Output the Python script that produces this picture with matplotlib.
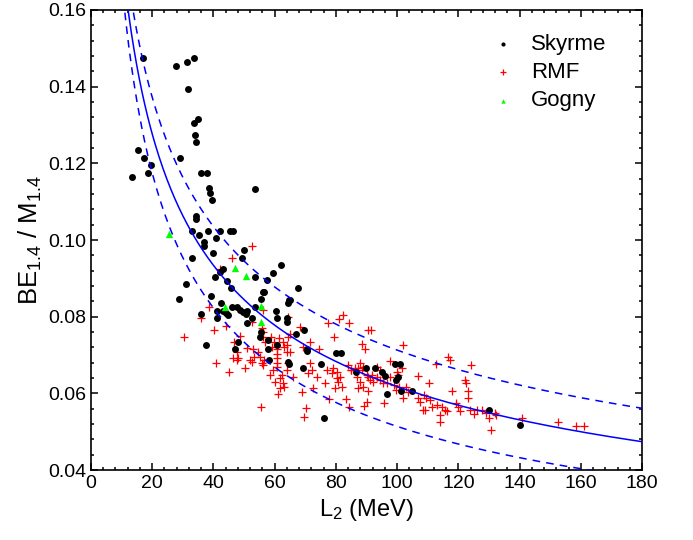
import numpy as np
import matplotlib
matplotlib.use("Agg")
import matplotlib.pyplot as plt
from matplotlib.ticker import MultipleLocator, FormatStrFormatter

plt.rcParams["font.family"] = ["Liberation Sans", "DejaVu Sans"]
plt.rcParams["mathtext.fontset"] = "custom"
plt.rcParams["mathtext.rm"] = "Liberation Sans"
plt.rcParams["mathtext.it"] = "Liberation Sans:italic"

# Skyrme models: (L2 in MeV, BE/M)
skyrme_L = [17.1, 27.7, 31.4, 33.8, 31.6, 35.1, 33.6, 33.9, 34.4, 15.4, 17.3, 29.1, 19.6, 18.5, 13.4,
            36.0, 37.8, 38.4, 39.0, 39.4, 53.5, 34.3, 34.2, 33.0, 35.4, 38.2, 40.8, 42.1, 45.4, 46.5,
            36.9, 36.9, 40.0, 32.9, 49.9, 49.2, 43.2, 42.1, 40.5, 44.5, 45.8, 30.9, 28.7, 39.2, 42.6,
            46.2, 47.6, 48.7, 49.8, 50.9, 41.1, 43.2, 44.1, 44.9, 50.5, 50.9, 52.7, 53.5, 55.4, 56.1,
            56.5, 35.9, 41.3, 37.6, 47.1, 48.0, 60.7, 63.9, 60.4, 57.6, 59.6, 62.0, 53.5, 60.8, 58.3,
            64.7, 67.7, 65.0, 64.4, 64.1, 69.6, 67.0, 55.2, 55.5, 57.9, 57.9, 70.7, 64.4, 64.6, 75.2,
            79.9, 81.7, 86.5, 95.0, 92.8, 96.8, 100.2, 70.5, 69.2, 89.7, 96.0, 99.3, 101.0, 99.6, 101.2,
            76.2, 104.9, 130.0, 140.1]
skyrme_BE = [0.1475, 0.1455, 0.1465, 0.1475, 0.1395, 0.1315, 0.1305, 0.1275, 0.1255, 0.1235, 0.1215, 0.1215, 0.1195, 0.1175, 0.1165,
             0.1175, 0.1175, 0.1135, 0.1123, 0.1104, 0.1134, 0.1063, 0.1054, 0.1024, 0.1013, 0.1024, 0.1005, 0.1024, 0.1024, 0.1024,
             0.0996, 0.0985, 0.0965, 0.0954, 0.0974, 0.0954, 0.0924, 0.0916, 0.0904, 0.0894, 0.0874, 0.0884, 0.0845, 0.0855, 0.0835,
             0.0826, 0.0825, 0.0818, 0.0813, 0.0815, 0.0815, 0.0815, 0.0809, 0.0804, 0.0806, 0.0784, 0.0796, 0.0824, 0.0847, 0.0865,
             0.0865, 0.0806, 0.0796, 0.0727, 0.0715, 0.0735, 0.0796, 0.0796, 0.0815, 0.0896, 0.0915, 0.0934, 0.0904, 0.0727, 0.0687,
             0.0843, 0.0874, 0.0843, 0.0835, 0.0785, 0.0765, 0.0754, 0.0748, 0.0761, 0.0739, 0.0716, 0.0711, 0.0683, 0.0676, 0.0677,
             0.0704, 0.0704, 0.0655, 0.0655, 0.0665, 0.0598, 0.0643, 0.0716, 0.0665, 0.0665, 0.0645, 0.0677, 0.0677, 0.0634, 0.0607,
             0.0536, 0.0606, 0.0556, 0.0518]

# RMF models
rmf_L = [52.6, 46.2, 42.1, 38.5, 35.9, 30.4, 40.3, 44.2, 48.7, 46.6, 47.7, 47.6, 40.7, 45.1, 50.3,
         53.0, 53.4, 51.9, 52.5, 55.8, 56.1, 56.3, 56.1, 56.8, 56.5, 56.3, 58.5, 59.6, 60.7, 62.3,
         61.5, 62.6, 60.9, 60.7, 64.5, 63.9, 64.1, 64.5, 64.3, 50.9, 54.7, 55.2, 55.8, 46.5, 48.1,
         52.5, 58.7, 59.8, 59.0, 60.7, 60.9, 61.7, 60.1, 62.6, 61.7, 61.0, 65.0, 68.3, 65.0, 55.7,
         82.4, 81.1, 84.4, 77.3, 63.1, 71.5, 69.2, 74.5, 79.4, 90.6, 88.4, 89.5, 102.0, 97.7, 99.9,
         63.9, 63.1, 66.1, 71.5, 72.1, 71.0, 73.9, 76.4, 72.6, 68.8, 70.2, 69.6, 77.8, 83.2, 84.4,
         79.2, 78.6, 80.3, 81.3, 80.8, 81.9, 77.2, 84.0, 84.8, 87.9, 88.8, 87.0, 87.9, 89.0, 87.3,
         90.6, 91.7, 93.3, 94.4, 95.5, 90.6, 90.3, 95.7, 93.3, 94.4, 96.8, 99.0, 99.6, 100.6, 102.9,
         103.7, 91.6, 116.7, 117.3, 124.0, 112.7, 101.5, 106.7, 110.5, 122.2, 122.4, 123.1, 123.0, 117.8, 108.9,
         109.4, 110.8, 106.9, 107.5, 108.3, 109.1, 111.3, 112.9, 114.6, 115.6, 116.2, 119.2, 120.0, 120.6, 123.8,
         126.0, 127.6, 125.1, 129.0, 132.0, 114.0, 114.0, 130.6, 140.7, 89.2, 80.3, 79.7, 85.1, 86.2, 87.3,
         88.4, 90.1, 91.1, 92.2, 97.7, 100.4, 102.0, 132.3, 130.1, 152.7, 158.4, 161.1]
rmf_BE = [0.0985, 0.0954, 0.0924, 0.0824, 0.0796, 0.0746, 0.0765, 0.0776, 0.0750, 0.0735, 0.0707, 0.0687, 0.0678, 0.0656, 0.0665,
          0.0715, 0.0696, 0.0687, 0.0682, 0.0770, 0.0759, 0.0817, 0.0746, 0.0735, 0.0687, 0.0674, 0.0648, 0.0661, 0.0670, 0.0648,
          0.0744, 0.0733, 0.0715, 0.0702, 0.0748, 0.0726, 0.0709, 0.0680, 0.0799, 0.0718, 0.0709, 0.0696, 0.0678, 0.0691, 0.0691,
          0.0785, 0.0748, 0.0735, 0.0722, 0.0692, 0.0679, 0.0639, 0.0630, 0.0626, 0.0613, 0.0597, 0.0709, 0.0774, 0.0755, 0.0565,
          0.0804, 0.0794, 0.0784, 0.0784, 0.0722, 0.0735, 0.0722, 0.0715, 0.0746, 0.0765, 0.0728, 0.0715, 0.0726, 0.0685, 0.0656,
          0.0661, 0.0617, 0.0643, 0.0678, 0.0661, 0.0652, 0.0643, 0.0626, 0.0613, 0.0604, 0.0561, 0.0538, 0.0584, 0.0584, 0.0565,
          0.0665, 0.0652, 0.0656, 0.0643, 0.0630, 0.0617, 0.0661, 0.0674, 0.0661, 0.0678, 0.0670, 0.0643, 0.0630, 0.0617, 0.0613,
          0.0643, 0.0648, 0.0643, 0.0635, 0.0626, 0.0607, 0.0578, 0.0575, 0.0670, 0.0661, 0.0626, 0.0622, 0.0609, 0.0617, 0.0616,
          0.0604, 0.0765, 0.0694, 0.0687, 0.0675, 0.0676, 0.0665, 0.0645, 0.0626, 0.0636, 0.0626, 0.0606, 0.0587, 0.0606, 0.0596,
          0.0587, 0.0583, 0.0587, 0.0578, 0.0556, 0.0556, 0.0565, 0.0569, 0.0565, 0.0556, 0.0553, 0.0574, 0.0565, 0.0555, 0.0556,
          0.0556, 0.0556, 0.0546, 0.0548, 0.0548, 0.0526, 0.0543, 0.0505, 0.0536, 0.0566, 0.0639, 0.0613, 0.0661, 0.0665, 0.0665,
          0.0661, 0.0648, 0.0635, 0.0630, 0.0643, 0.0648, 0.0587, 0.0543, 0.0535, 0.0526, 0.0515, 0.0515]

# Gogny models
gogny_L = [25.4, 47.1, 50.7, 43.8, 55.4, 55.4]
gogny_BE = [0.1016, 0.0926, 0.0906, 0.0826, 0.0828, 0.0785]

# power-law fit BE/M = a * L^-p, central curve and the two bounds
fit_a, fit_p = 0.493, 0.451
upper_a, upper_p = 0.4645, 0.407
lower_a, lower_p = 0.548, 0.514

fig = plt.figure(figsize=(6.93, 5.40), dpi=100)
ax = fig.add_axes([0.1313, 0.1296, 0.7951, 0.8519])

ax.scatter(rmf_L, rmf_BE, marker="+", s=40, c="#ff0000", linewidths=0.9, label="RMF", zorder=2)
ax.scatter(skyrme_L, skyrme_BE, marker="o", s=25, c="black", linewidths=0, label="Skyrme", zorder=3)
ax.scatter(gogny_L, gogny_BE, marker="^", s=28, c="#00ff00", linewidths=0, label="Gogny", zorder=4)

L = np.linspace(8, 180, 400)
ax.plot(L, fit_a * L ** -fit_p, color="#0000ff", lw=1.1, zorder=5)
ax.plot(L, upper_a * L ** -upper_p, color="#0000ff", lw=1.1, ls=(0, (5, 4)), zorder=5)
ax.plot(L, lower_a * L ** -lower_p, color="#0000ff", lw=1.1, ls=(0, (5, 4)), zorder=5)

ax.set_xlim(0, 180)
ax.set_ylim(0.04, 0.16)
ax.xaxis.set_major_locator(MultipleLocator(20))
ax.xaxis.set_minor_locator(MultipleLocator(4))
ax.yaxis.set_major_locator(MultipleLocator(0.02))
ax.yaxis.set_minor_locator(MultipleLocator(0.004))
ax.yaxis.set_major_formatter(FormatStrFormatter("%.2f"))
ax.tick_params(which="both", direction="in", top=True, right=True, labelsize=14, width=1.1)
ax.tick_params(which="major", length=5)
ax.tick_params(which="minor", length=2.5)
for sp in ax.spines.values():
    sp.set_linewidth(1.2)

ax.set_xlabel("L$_2$ (MeV)", fontsize=17, labelpad=4)
ax.set_ylabel("BE$_{1.4}$ / M$_{1.4}$", fontsize=18.5, labelpad=3)

handles, labels = ax.get_legend_handles_labels()
order = [1, 0, 2]
ax.legend([handles[i] for i in order], [labels[i] for i in order],
          loc="upper left", bbox_to_anchor=(0.68, 0.992), frameon=False,
          fontsize=16, markerscale=0.6, handlelength=1.6, handletextpad=0.45,
          labelspacing=0.33)

fig.savefig("out.png", dpi=100)
